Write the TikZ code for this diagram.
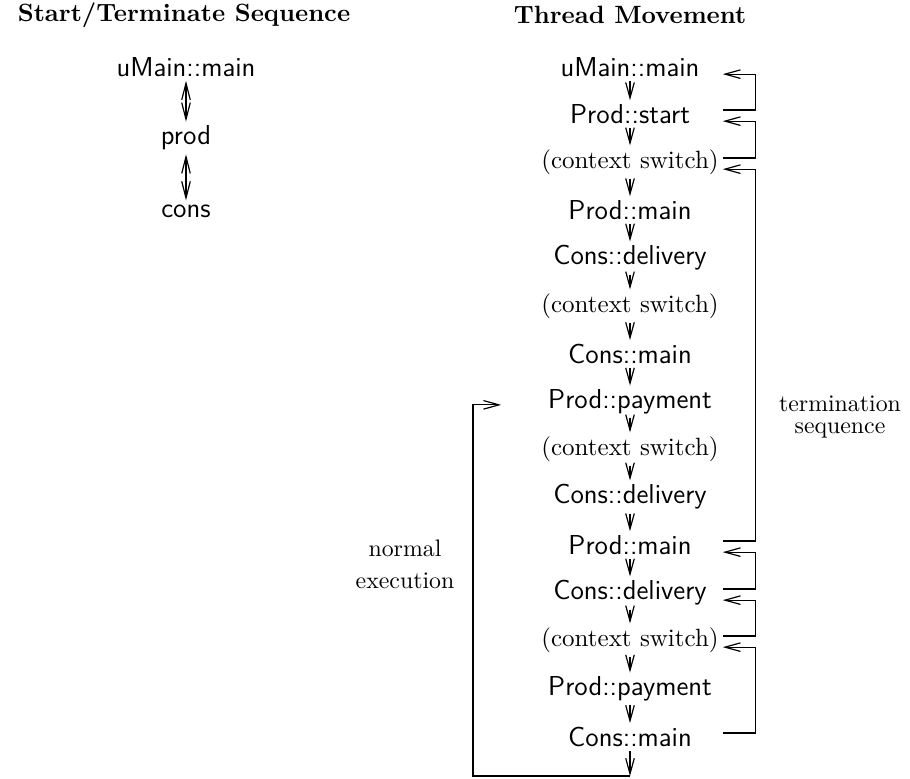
\documentclass[tikz,border=0pt]{standalone}
\usetikzlibrary{arrows.meta}
\tikzset{
  every picture/.style={line width=0.5pt},
  fn/.style={font=\sffamily\fontsize{11.5}{13}\selectfont, inner sep=1.5pt},
  sw/.style={font=\fontsize{10.5}{12.5}\selectfont, inner sep=1.5pt},
  title/.style={font=\bfseries\fontsize{10.5}{12}\selectfont},
  note/.style={align=center},
  arrow/.style={-{Straight Barb[length=6.5pt, width=3.6pt]}},
  twoway/.style={{Straight Barb[length=7pt, width=3.6pt]}-{Straight Barb[length=7pt, width=3.6pt]}},
}

\begin{document}
\begin{tikzpicture}[x=0.42pt, y=-0.42pt]
  \useasboundingbox (0,0) rectangle (910,778);
  % left: start/terminate sequence
  \node[title] (lt) at (184,15) {Start/Terminate Sequence};
  \node[fn] (lum) at (186,67) {uMain::main};
  \node[fn] (lprod) at (186,138) {prod};
  \node[fn] (lcons) at (186,211) {cons};
  \draw[twoway] (lum) -- (lprod); \draw[twoway] (lprod) -- (lcons);
  % right: thread movement
  \node[title] (rt) at (630,15) {Thread Movement};
  \node[fn] (um) at (630,67) {uMain::main};
  \node[fn] (ps) at (630,114) {Prod::start};
  \node[sw] (cs1) at (630,162) {(context switch)};
  \node[fn] (pm1) at (630,210) {Prod::main};
  \node[fn] (cd1) at (630,258) {Cons::delivery};
  \node[sw] (cs2) at (630,306) {(context switch)};
  \node[fn] (cm1) at (630,354) {Cons::main};
  \node[fn] (pp1) at (630,402) {Prod::payment};
  \node[sw] (cs3) at (630,449) {(context switch)};
  \node[fn] (cd2) at (630,497) {Cons::delivery};
  \node[fn] (pm2) at (630,545) {Prod::main};
  \node[fn] (cd3) at (630,593) {Cons::delivery};
  \node[sw] (cs4) at (630,640) {(context switch)};
  \node[fn] (pp2) at (630,689) {Prod::payment};
  \node[fn] (cm2) at (630,737) {Cons::main};
  \coordinate (bot) at (630,776);
  \coordinate (lft) at (473,776);
  \draw[arrow] (um) -- (ps); \draw[arrow] (ps) -- (cs1); \draw[arrow] (cs1) -- (pm1);
  \draw[arrow] (pm1) -- (cd1); \draw[arrow] (cd1) -- (cs2); \draw[arrow] (cs2) -- (cm1);
  \draw[arrow] (cm1) -- (pp1); \draw[arrow] (pp1) -- (cs3); \draw[arrow] (cs3) -- (cd2);
  \draw[arrow] (cd2) -- (pm2); \draw[arrow] (pm2) -- (cd3); \draw[arrow] (cd3) -- (cs4);
  \draw[arrow] (cs4) -- (pp2); \draw[arrow] (pp2) -- (cm2); \draw[arrow] (cm2) -- (bot);
  % returns on the right
  \draw[arrow] ([yshift=1.7pt]ps.east -| cs1.east) -- ++(33,0) |- ([yshift=-3pt]um.east -| cs1.east);
  \draw[arrow] ([yshift=1.7pt]cs1.east) -- ++(33,0) |- ([yshift=-3pt]ps.east -| cs1.east);
  \draw[arrow] ([yshift=1.7pt]pm2.east -| cs1.east) -- ++(33,0) |- ([yshift=-3pt]cs1.east);
  \draw[arrow] ([yshift=1.7pt]cd3.east -| cs1.east) -- ++(33,0) |- ([yshift=-3pt]pm2.east -| cs1.east);
  \draw[arrow] ([yshift=1.7pt]cs4.east -| cs1.east) -- ++(33,0) |- ([yshift=-3pt]cd3.east -| cs1.east);
  \draw[arrow] ([yshift=1.7pt]cm2.east -| cs1.east) -- ++(33,0) |- ([yshift=-3pt]cs4.east -| cs1.east);
  \node[note] (ts) at (840,417) {termination\\[-3pt]sequence};
  % loop back on the left
  \draw[arrow, shorten >=18pt] (bot) -- (lft) |- ([yshift=-1.2pt]pp1.west);
  \node[note] (ne) at (405,564) {normal\\[1.5pt]execution};
\end{tikzpicture}
\end{document}
